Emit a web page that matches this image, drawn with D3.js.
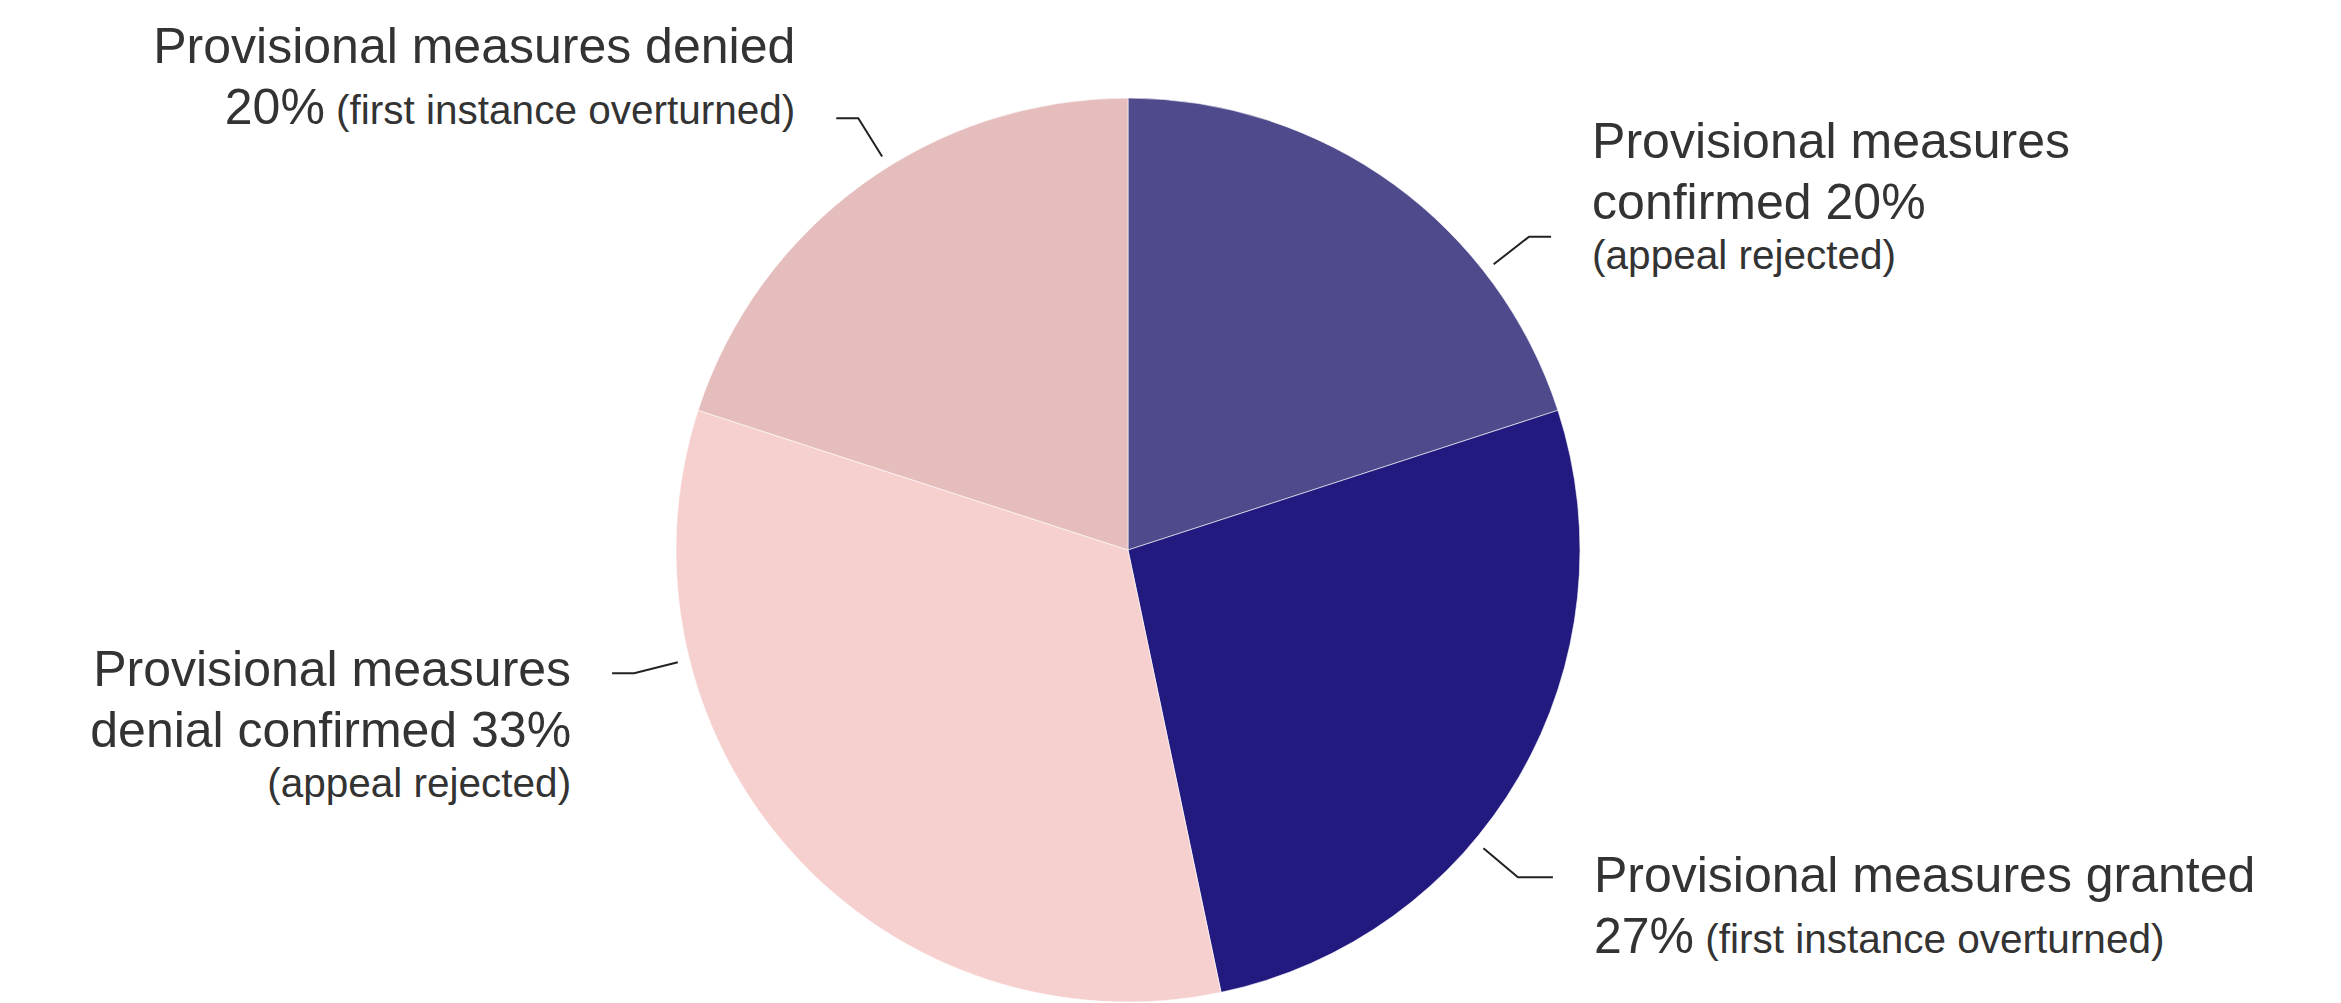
<!DOCTYPE html>
<html>
<head>
<meta charset="utf-8">
<script src="https://cdn.jsdelivr.net/npm/d3@7"></script>
<style>
  body { margin: 0; background: #fff; }
  svg { display: block; }
  text { font-family: "Liberation Sans", Arial, sans-serif; fill: #333; }
</style>
</head>
<body>
<div id="pieChart"></div>
<script>
// slices, clockwise from 12 o'clock
const categories = ["Provisional measures confirmed", "Provisional measures granted",
                    "Provisional measures denial confirmed", "Provisional measures denied"];
const shares = [20, 26.7, 33.3, 20];
const notes = ["(appeal rejected)", "(first instance overturned)",
               "(appeal rejected)", "(first instance overturned)"];

const colors = ["#4f4a8b", "#221a7e", "#f6d0cf", "#e5bdbc"];

// where each label sits: leader angle (deg), side, horizontal arm and first baseline offset from the elbow
const labelLayout = [
  {angle: 52, side: 1, arm: 22, dy: -79},
  {angle: 130, side: 1, arm: 35, dy: 15},
  {angle: 256, side: -1, arm: 22, dy: 13},
  {angle: 328, side: -1, arm: 22, dy: -55}
];

const bigSize = 50, smallSize = 40.5;

function labelLines(i) {
  let pct = Math.round(shares[i]) + "%";
  let name = categories[i];
  if (i === 0) return [[["Provisional measures", bigSize]], [["confirmed " + pct, bigSize]], [[notes[i], smallSize]]];
  if (i === 2) return [[["Provisional measures", bigSize]], [["denial confirmed " + pct, bigSize]], [[notes[i], smallSize]]];
  return [[[name, bigSize]], [[pct, bigSize], [" " + notes[i], smallSize]]];
}

function pieChart() {
  let width = 2341, height = 1003;
  let cx = 1128, cy = 550, radius = 452;

  let svg = d3.select("#pieChart")
    .append("svg")
    .attr("width", width)
    .attr("height", height);

  let g = svg.append("g")
    .attr("transform", "translate(" + cx + "," + cy + ")");

  let color = d3.scaleOrdinal()
    .domain(categories)
    .range(colors);

  let pie = d3.pie()
    .sort(null)
    .value(function(d, i) { return shares[i]; });

  let arc = d3.arc()
    .innerRadius(0)
    .outerRadius(radius);

  g.selectAll("path")
    .data(pie(categories))
    .enter()
    .append("path")
      .attr("d", arc)
      .attr("fill", function(d) { return color(d.data); })
      .attr("stroke", "#fff")
      .attr("stroke-width", 0.6);

  // leader lines + labels
  labelLayout.forEach(function(lab, i) {
    let a = lab.angle * Math.PI / 180;
    let r0 = radius + 12, r1 = radius + 57;
    let x0 = r0 * Math.sin(a), y0 = -r0 * Math.cos(a);
    let x1 = r1 * Math.sin(a), y1 = -r1 * Math.cos(a);
    let x2 = x1 + lab.side * lab.arm;

    g.append("polyline")
      .attr("points", [[x0, y0], [x1, y1], [x2, y1]].join(" "))
      .attr("fill", "none")
      .attr("stroke", "#222")
      .attr("stroke-width", 2);

    let tx = x2 + lab.side * 41;
    let ty = y1 + lab.dy;
    labelLines(i).forEach(function(line, k) {
      if (k > 0) ty += line[0][1] === bigSize ? 61 : 50;
      let t = g.append("text")
        .attr("x", tx)
        .attr("y", ty)
        .attr("text-anchor", lab.side > 0 ? "start" : "end");
      line.forEach(function(seg) {
        t.append("tspan")
          .style("font-size", seg[1] + "px")
          .style("white-space", "pre")
          .text(seg[0]);
      });
    });
  });
}

pieChart();
</script>
</body>
</html>
